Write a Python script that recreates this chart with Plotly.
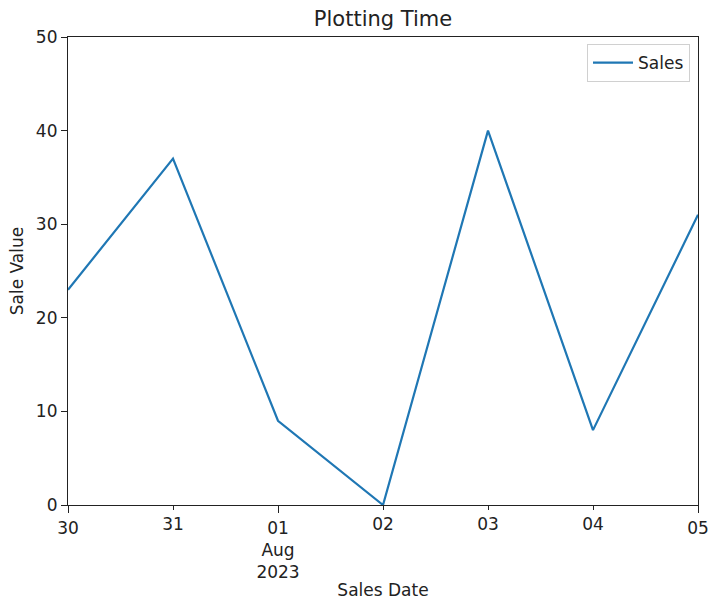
import plotly.graph_objects as go

dates = ["2023-07-30", "2023-07-31", "2023-08-01", "2023-08-02", "2023-08-03", "2023-08-04", "2023-08-05"]
sales = [23, 37, 9, 0, 40, 8, 31]
major_dates = ["2023-07-30", "2023-08-01", "2023-08-05"]
major_labels = ["30", "01<br>Aug<br>2023", "05"]
minor_dates = ["2023-07-31", "2023-08-02", "2023-08-03", "2023-08-04"]
minor_labels = ["31", "02", "03", "04"]
y_ticks = [0, 10, 20, 30, 40, 50]

fig = go.Figure()
fig.add_trace(go.Scatter(x=dates, y=sales, mode="lines", name="Sales",
                         line=dict(color="#1f77b4", width=2.2)))
# invisible companion so the minor-label axis is drawn
fig.add_trace(go.Scatter(x=dates, y=sales, xaxis="x2", mode="lines", showlegend=False,
                         hoverinfo="skip", line=dict(color="rgba(0,0,0,0)", width=0)))

font = "DejaVu Sans, sans-serif"
W, H = 708, 600
axis_common = dict(showgrid=False, zeroline=False, tickcolor="#222", automargin=False,
                   tickfont=dict(size=17), ticklabeloverflow="allow")
fig.update_layout(
    width=W, height=H,
    margin=dict(l=68, r=10, t=37, b=95, autoexpand=False),
    paper_bgcolor="white", plot_bgcolor="white",
    font=dict(family=font, size=17, color="#222"),
    title=dict(text="Plotting Time", x=383 / W, xanchor="center", xref="container",
               y=1 - 19 / H, yanchor="middle", yref="container",
               font=dict(size=21, color="#222")),
    showlegend=True,
    legend=dict(x=1 - 8 / 630, y=1 - 7 / 468, xanchor="right", yanchor="top",
                bordercolor="#d0d0d0", borderwidth=1, bgcolor="white",
                font=dict(size=17), itemwidth=40),
    xaxis=dict(
        range=[dates[0], dates[-1]], tickvals=major_dates, ticktext=major_labels,
        showline=True, linecolor="#222", linewidth=1.2, mirror=True,
        ticks="outside", ticklen=7,
        title=dict(text="Sales Date", standoff=16, font=dict(size=17)),
        **axis_common,
    ),
    xaxis2=dict(
        range=[dates[0], dates[-1]], tickvals=minor_dates, ticktext=minor_labels,
        overlaying="x", side="bottom", anchor="y", showline=False,
        ticks="outside", ticklen=3.5,
        **axis_common,
    ),
    yaxis=dict(
        range=[0, 50], tickvals=y_ticks,
        showline=True, linecolor="#222", linewidth=1.2, mirror=True,
        ticks="outside", ticklen=6,
        title=dict(text="Sale Value", standoff=7, font=dict(size=17)),
        **axis_common,
    ),
)

fig.write_html(
    "out.html",
    config={"displayModeBar": False},
    post_script="document.body.style.margin='0';document.body.style.overflow='hidden';",
)
